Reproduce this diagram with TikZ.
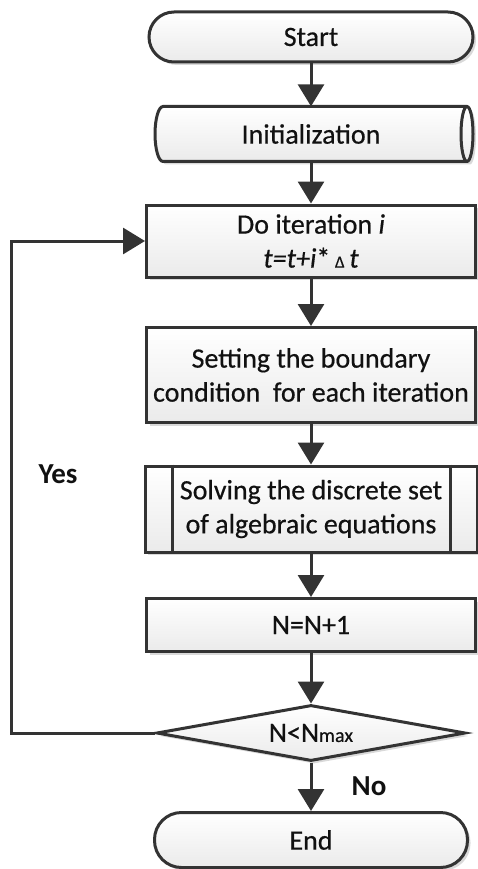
\documentclass[tikz,border=0pt]{standalone}
\usepackage{fontspec}
\setmainfont{Carlito}
\usetikzlibrary{shapes.geometric,shadows,arrows.meta}

\definecolor{linegray}{HTML}{333333}
\definecolor{textgray}{HTML}{111111}

\tikzset{
  boxfill/.style={draw=linegray, line width=3pt, top color=white, bottom color=gray!16,
    drop shadow={shadow xshift=3pt, shadow yshift=-3pt, opacity=.3}},
  boxtext/.style={align=center, text=textgray, font=\fontsize{28}{34}\selectfont\addfontfeature{FakeBold=0.5}},
  box/.style={boxfill, boxtext, minimum width=329pt},
  terminal/.style={box, rounded corners=25pt, minimum width=324pt, minimum height=50pt},
  storebox/.style={boxtext, minimum width=325pt, minimum height=55pt},
  decision/.style={box, diamond, aspect=5.5, inner sep=0pt, minimum width=309pt, minimum height=56pt},
  flow/.style={draw=linegray, line width=3pt, -{Triangle[width=26pt,length=22pt]}},
  answer/.style={font=\fontsize{29}{32}\selectfont\bfseries, text=textgray}
}

\begin{document}
\begin{tikzpicture}[x=1pt,y=-1pt]
  \useasboundingbox (0,0) rectangle (477,869);

  % the steps
  \node[terminal] (start) at (311,37) {Start};
  % stored data shape, outline drawn by hand
  \path[boxfill] (163,106.5) arc[start angle=90, end angle=270, x radius=8pt, y radius=27.5pt]
    -- (467,161.5) arc[start angle=-90, end angle=90, x radius=6pt, y radius=27.5pt] -- cycle;
  \draw[draw=linegray, line width=3pt] (467,106.5) arc[start angle=90, end angle=270, x radius=6pt, y radius=27.5pt];
  \node[storebox] (init) at (311,134) {Initialization};
  \node[box, minimum height=72pt] (iter) at (311,241)
    {Do iteration \textit{i}\\\textit{t=t+i}*\,{\fontsize{17}{17}\selectfont Δ}\,\textit{t}};
  \node[box, minimum height=95pt] (bound) at (311,375)
    {Setting the boundary\\condition\ \ for each iteration};
  \node[box, minimum height=86pt, minimum width=332pt] (solve) at (311,509)
    {Solving the discrete set\\of algebraic equations};
  \draw[draw=linegray, line width=3pt] ([xshift=29pt]solve.north west) -- ([xshift=29pt]solve.south west);
  \draw[draw=linegray, line width=3pt] ([xshift=-28pt]solve.north east) -- ([xshift=-28pt]solve.south east);
  \node[box, minimum height=53pt] (count) at (311,625) {N=N+1};
  \node[decision] (check) at (311,733) {N<N{\fontsize{20}{20}\selectfont max}};
  \node[terminal, rounded corners=27pt, minimum height=55pt, minimum width=313pt] (stop) at (311,840) {End};

  % connectors
  \draw[flow] (start.south) -- (init.north);
  \draw[flow] (init.south) -- (iter.north);
  \draw[flow] (iter.south) -- (bound.north);
  \draw[flow] (bound.south) -- (solve.north);
  \draw[flow] (solve.south) -- (count.north);
  \draw[flow] (count.south) -- (check.north);
  \draw[flow] (check.south) -- (stop.north);
  \coordinate (loopcorner) at (11,733);
  \draw[flow] (check.west) -- (loopcorner) |- (iter.west);

  \node[answer] (yes) at (58,474) {Yes};
  \node[answer] (no) at (369,786) {No};
\end{tikzpicture}
\end{document}
